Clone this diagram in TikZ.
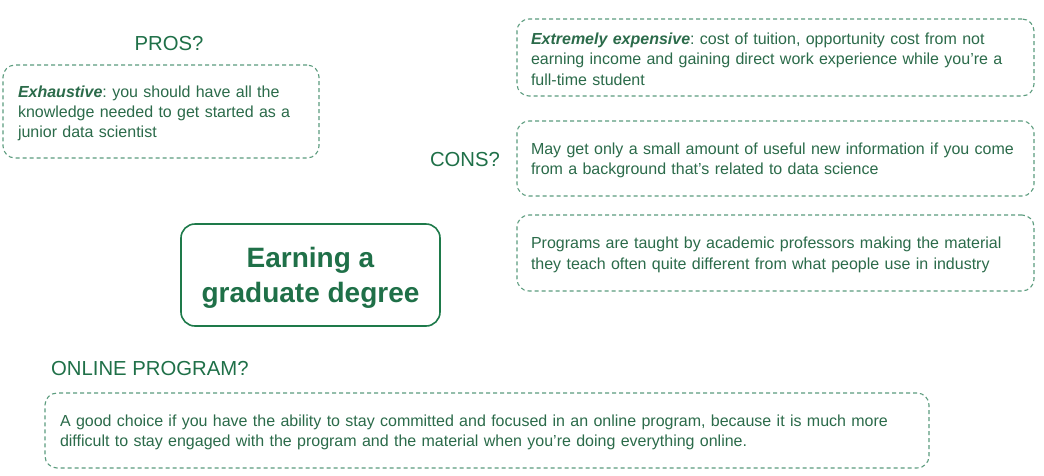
\documentclass[tikz,border=0pt]{standalone}
\usepackage{fontspec}
\setmainfont{Liberation Sans}
\frenchspacing
\definecolor{txt}{HTML}{2B6B4A}
\definecolor{ttl}{HTML}{1F7048}
\definecolor{bord}{HTML}{1E7A4A}
\definecolor{dash}{HTML}{5C9C7E}
\begin{document}
\begin{tikzpicture}[x=1pt,y=-1pt,
  dbox/.style={draw=dash, dash pattern=on 4pt off 3pt, line width=1.1pt, rounded corners=12pt,
    inner sep=0pt, anchor=center},
  btext/.style={align=left, text=txt, inner sep=0pt, anchor=center,
    font=\fontsize{16}{20.3}\selectfont},
  ttlstyle/.style={text=ttl, font=\fontsize{20.3}{24}\selectfont, inner sep=0pt}
]
\useasboundingbox (0,0) rectangle (1044,475);
\fill[white] (0,0) rectangle (1044,475);

\node[ttlstyle] (prostitle) at (169,44) {PROS?};
\node[dbox, minimum width=316pt, minimum height=93pt] (pros) at (161,111.5) {};
\node[btext, text width=286pt] (prostext) at ([yshift=-2pt]pros.center)
  {\textbf{\textit{Exhaustive}}: you should have all the\\knowledge needed to get started as a\\junior data scientist};

\node[ttlstyle] (constitle) at (465,160) {CONS?};
\node[dbox, minimum width=517pt, minimum height=77pt] (cons1) at (775.5,57.5) {};
\node[btext, text width=489pt] (cons1text) at ([yshift=-1.5pt]cons1.center)
  {\textbf{\textit{Extremely expensive}}: cost of tuition, opportunity cost from not\\earning income and gaining direct work experience while you’re a\\full-time student};
\node[dbox, minimum width=517pt, minimum height=75pt] (cons2) at (775.5,158.5) {};
\node[btext, text width=489pt] (cons2text) at ([yshift=-2pt]cons2.center)
  {May get only a small amount of useful new information if you come\\from a background that’s related to data science};
\node[dbox, minimum width=517pt, minimum height=76pt] (cons3) at (775.5,253) {};
\node[btext, text width=489pt] (cons3text) at ([yshift=-2pt]cons3.center)
  {Programs are taught by academic professors making the material\\they teach often quite different from what people use in industry};

\node[draw=bord, line width=1.6pt, rounded corners=14pt, minimum width=259pt, minimum height=102pt] (main) at (310.5,275) {};
\node[text=ttl, align=center, font=\fontsize{28}{35}\selectfont\bfseries, inner sep=0pt] (maintext) at (310.5,277.5)
  {Earning a\\graduate degree};

\node[ttlstyle, anchor=west] (onlinetitle) at (51,369) {ONLINE PROGRAM?};
\node[dbox, minimum width=884pt, minimum height=75pt] (online) at (487,430.5) {};
\node[btext, text width=854pt] (onlinetext) at ([yshift=-2pt]online.center)
  {A good choice if you have the ability to stay committed and focused in an online program, because it is much more\\difficult to stay engaged with the program and the material when you’re doing everything online.};
\end{tikzpicture}
\end{document}
